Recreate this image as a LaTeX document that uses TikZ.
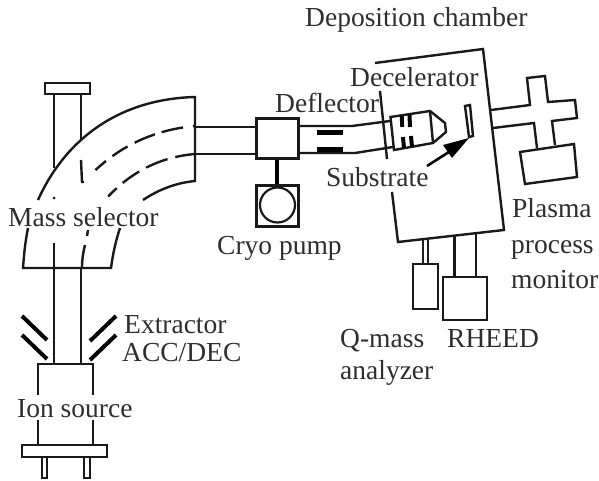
\documentclass[tikz,border=0pt]{standalone}
\usepackage{fontspec}
\setmainfont{Liberation Serif}
\begin{document}
\begin{tikzpicture}[x=1pt,y=-1pt,
  ln/.style={draw=black!90,line width=2.4pt,line join=miter},
  thin ln/.style={draw=black!88,line width=1.7pt},
  bar/.style={draw=black,line width=4pt},
  lab/.style={anchor=base west,inner sep=0pt,font=\fontsize{27.5}{30}\selectfont,text=black!82}]
\useasboundingbox (0,0) rectangle (599,481);
% mass selector
\draw[ln] (45,83) rectangle (90,94);
\draw[ln] (54,94) -- (54,168);
\draw[ln] (81,94) -- (81,140);
\draw[ln] (38,200) .. controls (66,138) and (120,99) .. (195,97) -- (195,181) .. controls (175,183) and (158,190) .. (143,200);
\draw[ln] (28,228) .. controls (25,243) and (24,255) .. (23,268) -- (111,268) .. controls (113,253) and (116,240) .. (120,228);
\draw[ln,dash pattern=on 2pt off 10pt on 22pt off 7pt on 22pt off 8pt on 18pt off 8pt on 14pt off 100pt] (195,126) .. controls (150,130) and (112,150) .. (84,182);
\draw[ln] (81,160) -- (82,182) -- (84,182);
\draw[ln,dash pattern=on 20pt off 8pt on 23pt off 8pt on 20pt off 8pt on 12pt off 100pt] (195,154) .. controls (160,157) and (130,172) .. (105,200);
\draw[ln] (88,230) -- (87,236);
\draw[ln] (85,245) .. controls (83,253) and (82,260) .. (82,268);
\fill[black!90] (54,198) circle (1.5);
\draw[ln] (54,243) -- (54,364);
\draw[ln] (81,268) -- (81,364);
% ion source
\draw[ln] (38,395) -- (38,364) -- (93,364) -- (93,395);
\draw[ln] (38,420) -- (38,445);
\draw[ln] (93,420) -- (93,445);
\draw[ln] (22,445) rectangle (107,457);
\draw[ln] (42,457) -- (42,478) -- (47,478) -- (47,457);
\draw[ln] (84,457) -- (84,478) -- (90,478) -- (90,457);
\draw[bar] (22,316) -- (47,340);
\draw[bar] (22,335) -- (47,359);
\draw[bar] (116,316) -- (90,341);
\draw[bar] (116,335) -- (90,360);
% beam line
\draw[ln] (195,127) -- (255,127);
\draw[ln] (195,154) -- (255,154);
\node[draw=black!90,line width=3pt,minimum width=42pt,minimum height=40pt,inner sep=0pt] (defl) at (277,139) {};
\draw[ln] (299,126) -- (352,126) -- (390,121);
\draw[ln] (299,153) -- (355,153) -- (393,147);
\draw[bar,line width=5pt] (317,133) -- (343,133);
\draw[bar,line width=5pt] (317,149.5) -- (343,149.5);
% cryo pump
\node[draw=black!90,line width=3pt,minimum width=42pt,minimum height=41pt,inner sep=0pt] (pump) at (277,205.5) {};
\node[draw=black!90,line width=2.2pt,circle,minimum size=35pt,inner sep=0pt] (pumpc) at (277.5,205) {};
\draw[draw=black,line width=4.2pt] (defl.south) -- (pump.north);
% chamber
\draw[ln] (375,63) -- (483,49) -- (504,230) -- (398,242) -- (392,192);
\draw[ln] (380,91) -- (387,159);
% decelerator
\draw[ln] (390.5,117) -- (430,111) -- (445,123) -- (446,132) -- (433,143) -- (394,150) -- cycle;
\draw[ln] (430,111) -- (433,143);
\draw[bar] (401.7,116) -- (402.3,127);
\draw[bar] (409.5,115) -- (410,127);
\draw[bar] (403,137) -- (404,148);
\draw[bar] (411,136) -- (412,147);
% substrate
\draw[ln] (465,106) -- (470,105) -- (473,136) -- (469,137) -- cycle;
\draw[draw=black,line width=2.6pt] (427,166) -- (452,150);
\fill[black] (469,138) -- (443,145) -- (452,158) -- cycle;
% plasma monitor
\draw[ln] (491,110) -- (530,105) -- (527,78) -- (545,76) -- (548,102) -- (575,100) -- (577,118) -- (552,121) -- (555,145);
\draw[ln] (493,128) -- (534,123) -- (537,148);
\draw[ln] (520,152) -- (574,144) -- (577,177) -- (525,184) -- cycle;
% analyzers
\draw[thin ln] (423,240) -- (423,264);
\draw[thin ln] (428,240) -- (428,264);
\draw[ln] (413,264) rectangle (438,309);
\draw[ln] (454.5,236) -- (454.5,277);
\draw[ln] (476,234) -- (476,277);
\draw[ln,line width=2.8pt] (443,277) rectangle (487,320);
% labels
\node[lab] (tdep) at (305,27) {Deposition chamber};
\node[lab] (tdec) at (350,87) {Decelerator};
\node[lab] (tdef) at (275,113) {Deflector};
\node[lab] (tsub) at (326,186) {Substrate};
\node[lab] (tmass) at (8,226) {Mass selector};
\node[lab] (tcryo) at (217,254) {Cryo pump};
\node[lab] (tpla) at (512,217) {Plasma};
\node[lab] (tpro) at (511,253) {process};
\node[lab] (tmon) at (511,288) {monitor};
\node[lab] (tq) at (340,347) {Q-mass};
\node[lab] (tana) at (340,379) {analyzer};
\node[lab] (trh) at (447,347) {RHEED};
\node[lab] (text) at (124,333) {Extractor};
\node[lab] (tacc) at (122,361) {ACC/DEC};
\node[lab] (tion) at (17,417) {Ion source};
\end{tikzpicture}
\end{document}
